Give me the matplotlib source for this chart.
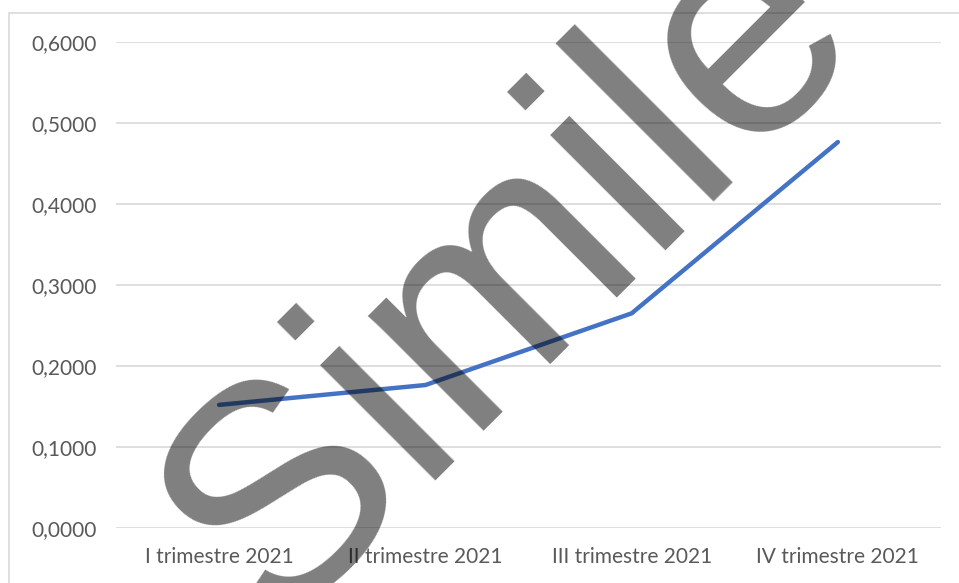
import matplotlib.pyplot as plt
from matplotlib.patches import Rectangle
from matplotlib.ticker import FuncFormatter

# dati
trimestri = ['I trimestre 2021', 'II trimestre 2021', 'III trimestre 2021', 'IV trimestre 2021']
valori = [0.152, 0.1765, 0.265, 0.4765]
y_ticks = [0.0, 0.1, 0.2, 0.3, 0.4, 0.5, 0.6]

W, H = 959, 583
fig = plt.figure(figsize=(W / 100, H / 100), dpi=100)
ax = fig.add_axes([116 / W, 1 - 528 / H, (941 - 116) / W, (528 - 42) / H])

# cornice esterna (tagliata a destra e in basso)
fig.patches.append(Rectangle((9 / W, -0.5), 2, 0.5 + 1 - 13 / H, transform=fig.transFigure,
                             fill=False, edgecolor='#d9d9d9', linewidth=1.2))

x = range(len(trimestri))
ax.plot(x, valori, color='#4472C4', linewidth=3.2, solid_capstyle='round', solid_joinstyle='round', zorder=3)

ax.set_xlim(-0.5, len(trimestri) - 0.5)
ax.set_ylim(0, 0.6)
ax.set_yticks(y_ticks)
ax.yaxis.set_major_formatter(FuncFormatter(lambda v, p: f'{v:.4f}'.replace('.', ',')))
ax.set_xticks(list(x))
ax.set_xticklabels(trimestri)
for s in ax.spines.values():
    s.set_visible(False)
ax.grid(axis='y', color='#d9d9d9', linewidth=1.2)
ax.set_axisbelow(True)
ax.tick_params(length=0, labelcolor='#595959', labelsize=15)
ax.tick_params(axis='y', pad=14)
ax.tick_params(axis='x', pad=14)
for t in ax.get_xticklabels() + ax.get_yticklabels():
    t.set_family('Lato')

# filigrana
fig.text(272 / W, 1 - 629 / H, 'Simile', rotation=45, rotation_mode='anchor',
         ha='left', va='baseline', fontsize=222, family='Liberation Sans',
         color='black', alpha=0.5, zorder=10)

fig.savefig('out.png', dpi=100)
